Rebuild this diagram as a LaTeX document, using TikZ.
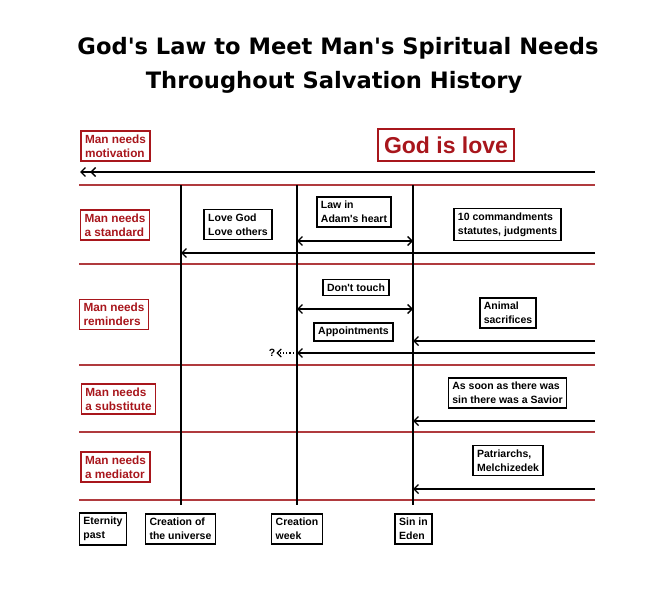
\documentclass[tikz,border=0pt]{standalone}
\usepackage{fontspec}
\setmainfont{Liberation Sans}[Ligatures=TeXOff]
\newfontfamily\titlefont{DejaVu Sans}[Ligatures=TeXOff]
\usetikzlibrary{positioning,arrows.meta}
\definecolor{needred}{HTML}{A8161C}
\definecolor{rowred}{HTML}{B03A3E}
\tikzset{
  titletext/.style={font=\titlefont\bfseries\fontsize{22.6}{26}\selectfont},
  needbox/.style={draw=needred, text=needred, line width=1.5pt, align=left,
                  font=\bfseries\fontsize{11.8}{14}\selectfont, inner xsep=4pt, inner ysep=3.5pt},
  lovebox/.style={draw=needred, text=needred, line width=1.5pt,
                  font=\bfseries\fontsize{23}{26}\selectfont, inner xsep=6pt, inner ysep=7.5pt},
  eventbox/.style={draw, line width=1.5pt, align=left,
                   font=\bfseries\fontsize{10.5}{14}\selectfont, inner xsep=4pt, inner ysep=4pt},
  rowline/.style={draw=rowred, line width=1.5pt},
  eraline/.style={line width=1.6pt},
  timearrow/.style={-{Straight Barb[length=4.5pt,width=9pt,line width=1.4pt]}, line width=1.6pt},
  bothways/.style={{Straight Barb[length=4.5pt,width=9pt,line width=1.4pt]}-{Straight Barb[length=4.5pt,width=9pt,line width=1.4pt]}, line width=1.6pt},
  dblarrow/.style={-{Straight Barb[length=4.5pt,width=9pt,line width=1.4pt,sep=4pt]Straight Barb[length=4.5pt,width=9pt,line width=1.4pt]}, line width=1.6pt}
}

\begin{document}
\begin{tikzpicture}[x=1pt, y=-1pt]
  \useasboundingbox (0,0) rectangle (671,591);

  % --- title ---
  \node[titletext] (title1) at (338, 48) {God's Law to Meet Man's Spiritual Needs};
  \node[titletext] (title2) at (334, 82) {Throughout Salvation History};

  % --- row borders ---
  \foreach \name/\y in {r1/185, r2/264, r3/365, r4/432, r5/500} {
    \coordinate (\name-l) at (79, \y);
    \coordinate (\name-r) at (595, \y);
    \draw[rowline] (\name-l) -- (\name-r);
  }

  % --- era lines ---
  \foreach \name/\x in {univ/181, week/297, sin/413} {
    \coordinate (\name-top) at (\x, 185);
    \coordinate (\name-bot) at (\x, 505);
    \draw[eraline] (\name-top) -- (\name-bot);
  }

  % --- needs (left column) ---
  \node[needbox] (motivation) at (115.5, 146) {Man needs\\motivation};
  \node[needbox] (standard)   at (115, 225)   {Man needs\\a standard};
  \node[needbox] (reminders)  at (114, 314.5) {Man needs\\reminders};
  \node[needbox] (substitute) at (118.5, 399) {Man needs\\a substitute};
  \node[needbox] (mediator)   at (115.5, 467) {Man needs\\a mediator};

  % --- motivation ---
  \node[lovebox] (love) at (446, 145) {God is love};
  \coordinate (mot-r) at (595, 172);
  \coordinate (mot-l) at (80, 172);
  \draw[dblarrow] (mot-r) -- (mot-l);

  % --- standard ---
  \node[eventbox] (lovegod) at (238, 224.5) {Love God\\Love others};
  \node[eventbox] (adam)    at (354, 212)   {Law in\\Adam's heart};
  \node[eventbox] (tencmd)  at (507.5, 224.5) {10 commandments\\statutes, judgments};
  \coordinate (std1) at (300, 241);
  \draw[bothways] (std1 -| week-top) -- (std1 -| sin-top);
  \coordinate (std-r) at (595, 253);
  \draw[timearrow] (std-r) -- (std-r -| univ-top);

  % --- reminders ---
  \node[eventbox] (touch)   at (356, 287.5) {Don't touch};
  \node[eventbox] (appoint) at (353.5, 332) {Appointments};
  \node[eventbox] (animal)  at (508, 313)   {Animal\\sacrifices};
  \coordinate (rem1) at (300, 309);
  \draw[bothways] (rem1 -| week-top) -- (rem1 -| sin-top);
  \coordinate (rem-r) at (595, 341);
  \draw[timearrow] (rem-r) -- (rem-r -| sin-top);
  \coordinate (rem2-r) at (595, 353);
  \draw[timearrow] (rem2-r) -- (rem2-r -| week-top);
  \node[font=\bfseries\fontsize{10.5}{12}\selectfont, inner sep=1pt] (qmark) at (272, 353) {?};
  \draw[-{Straight Barb[length=4pt,width=8pt,line width=1.2pt]}, line width=1.2pt, dotted] (rem2-r -| week-top) -- (qmark.east);

  % --- substitute ---
  \node[eventbox] (savior) at (507.5, 393) {As soon as there was\\sin there was a Savior};
  \coordinate (sub-r) at (595, 421);
  \draw[timearrow] (sub-r) -- (sub-r -| sin-top);

  % --- mediator ---
  \node[eventbox] (patriarchs) at (508, 460.5) {Patriarchs,\\Melchizedek};
  \coordinate (med-r) at (595, 489);
  \draw[timearrow] (med-r) -- (med-r -| sin-top);

  % --- time axis ---
  \node[eventbox] (eternity) at (103, 529)   {Eternity\\past};
  \node[eventbox] (creation) at (180.5, 529) {Creation of\\the universe};
  \node[eventbox] (cweek)    at (297, 529)   {Creation\\week};
  \node[eventbox] (eden)     at (413.5, 529) {Sin in\\Eden};

\end{tikzpicture}
\end{document}
